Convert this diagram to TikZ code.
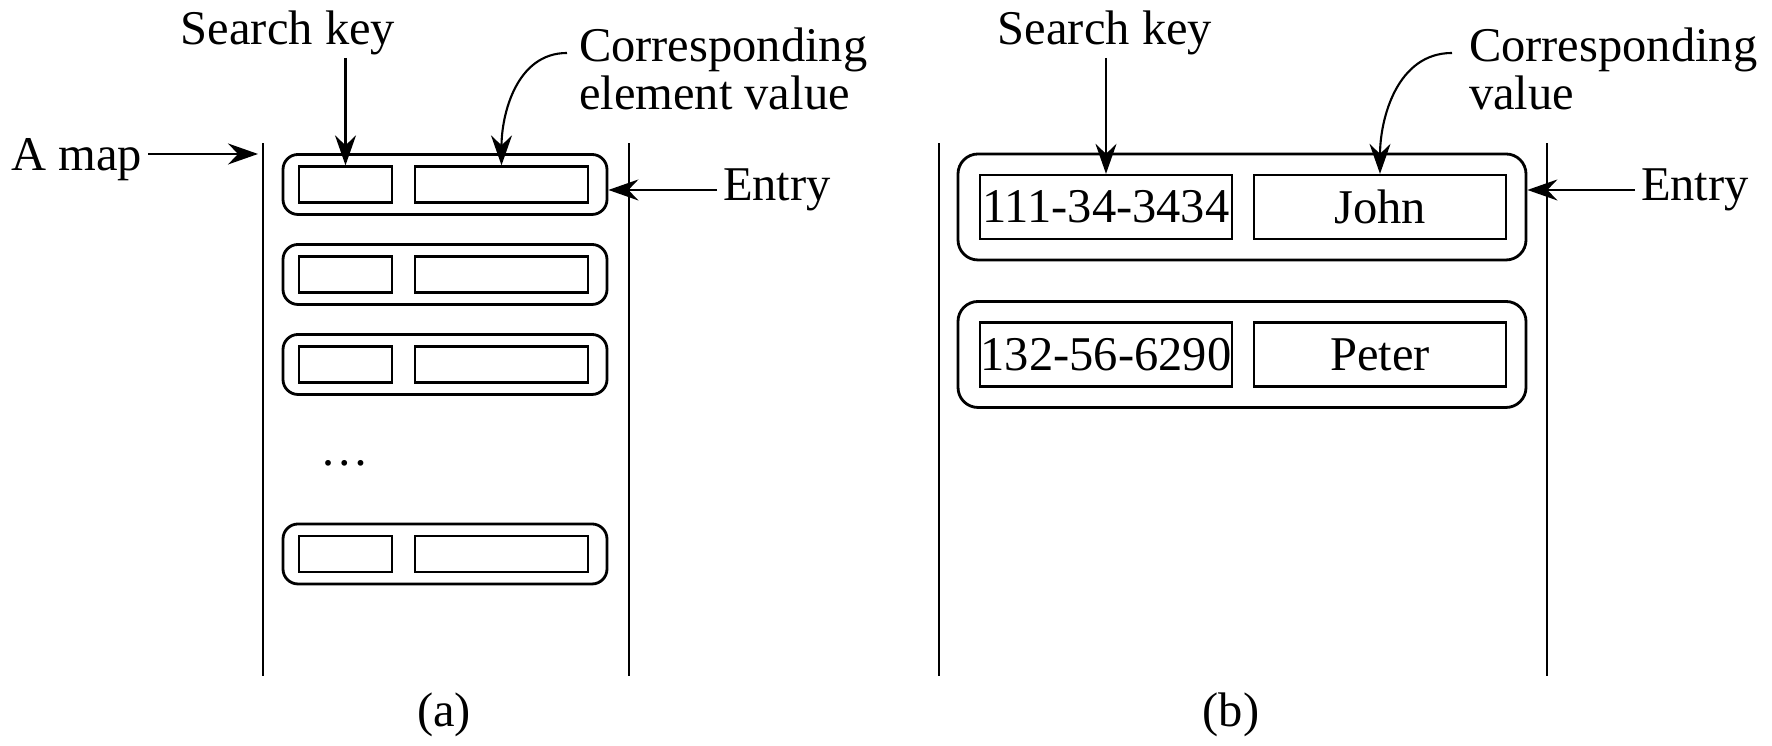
\documentclass[tikz,border=0pt]{standalone}
\usepackage{fontspec}
\setmainfont{Liberation Serif}
\usetikzlibrary{arrows.meta,positioning}

\begin{document}
\begin{tikzpicture}[->,>={Stealth[length=3mm,width=2.1mm,inset=1mm]},semithick,
	font=\fontsize{13.8}{13.6}\selectfont,
	lbl/.style={inner sep=.5mm},
	entrybox/.style={draw,line width=.8pt,rounded corners=1.5mm,inner sep=0pt,minimum width=3.24cm,minimum height=.6cm},
	keybox/.style={draw,line width=.65pt,inner sep=0pt,minimum width=.93cm,minimum height=.36cm},
	valbox/.style={keybox,minimum width=1.73cm},
	bigentry/.style={entrybox,rounded corners=2mm,minimum width=5.68cm,minimum height=1.06cm},
	bigcell/.style={keybox,minimum width=2.52cm,minimum height=.64cm}]
	\useasboundingbox (0,0) rectangle (17.72,7.46);

	% (a) the map with its entries
	\draw[-] (2.63,.7) -- (2.63,6.03);
	\draw[-] (6.29,.7) -- (6.29,6.03);
	\foreach \i/\y in {1/5.615,2/4.715,3/3.815,4/1.92}{
		\node[entrybox] (ea\i) at (4.45,\y) {};
		\node[keybox] (ka\i) at ([xshift=-.995cm]ea\i.center) {};
		\node[valbox] (va\i) at ([xshift=.565cm]ea\i.center) {};
	}
	\node (dots) at (3.45,2.83) {\dots};
	\node (capa) at (4.44,.31) {(a)};

	\node (skeya) at (2.88,7.13) {Search key};
	\node[lbl,align=left,anchor=west] (corra) at (5.73,6.77) {Corresponding\\element value};
	\node[lbl,anchor=east] (amap) at (1.48,5.86) {A map};
	\node[lbl,anchor=west] (entrya) at (7.17,5.56) {Entry};
	\coordinate (cstarta) at (5.67,6.93);
	\coordinate (amapend) at (2.58,5.92);

	\draw (ka1.north |- 0,6.88) -- (ka1.north);
	\draw (cstarta) to[out=180,in=90] (va1.north);
	\draw (amapend -| amap.east) -- (amapend);
	\draw (entrya.west) -- (entrya.west -| ea1.east);

	% (b) an example
	\draw[-] (9.39,.7) -- (9.39,6.03);
	\draw[-] (15.47,.7) -- (15.47,6.03);
	\node[bigentry] (eb1) at (12.42,5.39) {};
	\node[bigcell] (kb1) at ([xshift=-1.36cm]eb1.center) {111-34-3434};
	\node[bigcell] (vb1) at ([xshift=1.38cm]eb1.center) {John};
	\node[bigentry] (eb2) at (12.42,3.915) {};
	\node[bigcell] (kb2) at ([xshift=-1.36cm]eb2.center) {132-56-6290};
	\node[bigcell] (vb2) at ([xshift=1.38cm]eb2.center) {Peter};
	\node (capb) at (12.31,.31) {(b)};

	\node (skeyb) at (11.05,7.13) {Search key};
	\node[lbl,align=left,anchor=west] (corrb) at (14.63,6.77) {Corresponding\\value};
	\node[lbl,anchor=west] (entryb) at (16.35,5.56) {Entry};
	\coordinate (cstartb) at (14.52,6.93);

	\draw (kb1.north |- 0,6.88) -- (kb1.north);
	\draw (cstartb) to[out=180,in=90] (vb1.north);
	\draw (entryb.west) -- (entryb.west -| eb1.east);
\end{tikzpicture}
\end{document}
